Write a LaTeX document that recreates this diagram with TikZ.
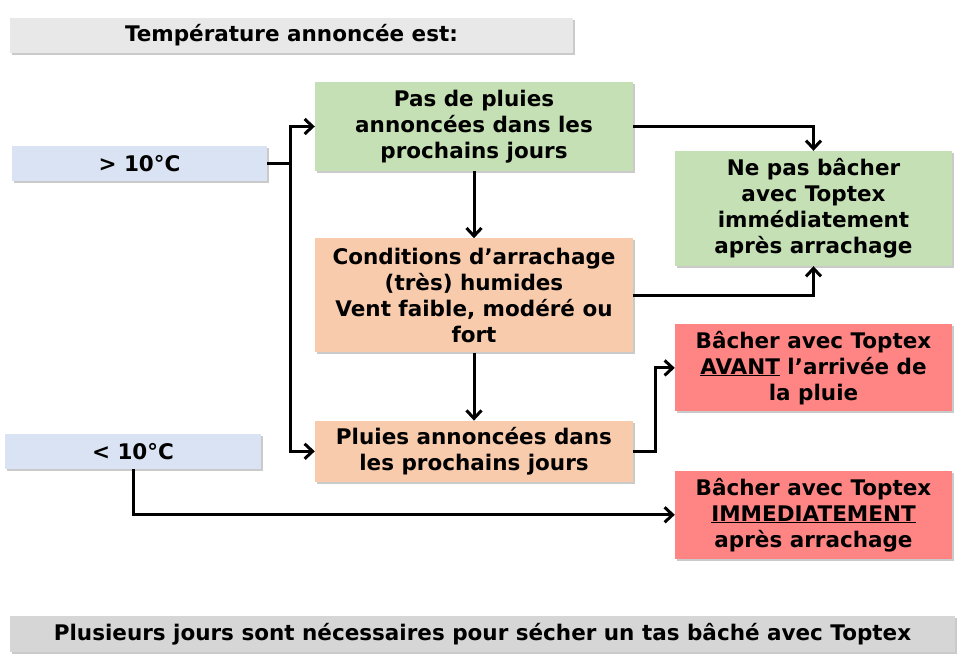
\documentclass[tikz,border=0pt]{standalone}
\usepackage{fontspec}
\setmainfont{DejaVu Sans}
\usetikzlibrary{positioning,shadows,arrows.meta}
\definecolor{tempblue}{HTML}{DAE3F3}
\definecolor{okgreen}{HTML}{C5E0B4}
\definecolor{warnorange}{HTML}{F8CBAD}
\definecolor{alertred}{HTML}{FF8585}
\definecolor{headgrey}{HTML}{E8E8E8}
\definecolor{footgrey}{HTML}{D6D6D6}

\tikzset{
  box/.style={fill=#1, align=center, inner sep=0pt,
    font=\bfseries\fontsize{21.5}{26}\selectfont,
    drop shadow={shadow xshift=1.5pt, shadow yshift=-2pt, opacity=0.35, fill=black!60}},
  link/.style={line width=3pt, -{Straight Barb[length=8pt,width=15pt]}},
}

\begin{document}
\begin{tikzpicture}[x=1pt, y=-1pt]
  \useasboundingbox (0,0) rectangle (965,669);

  \node[box=headgrey, minimum width=563pt, minimum height=35pt] (head) at (291.5,35.5) {Température annoncée est:};
  \node[box=tempblue, minimum width=255pt, minimum height=35pt] (warm) at (139.5,163.5) {> 10°C};
  \node[box=tempblue, minimum width=256pt, minimum height=35pt] (cold) at (133,451.5) {< 10°C};

  \node[box=okgreen, minimum width=318pt, minimum height=89pt] (dry) at (474,126.5) {Pas de pluies\\annoncées dans les\\prochains jours};
  \node[box=warnorange, minimum width=318pt, minimum height=114pt, below=67pt of dry] (wet) {Conditions d’arrachage\\(très) humides\\Vent faible, modéré ou\\fort};
  \node[box=warnorange, minimum width=318pt, minimum height=61pt, below=68pt of wet] (rain) {Pluies annoncées dans\\les prochains jours};

  \node[box=okgreen, minimum width=277pt, minimum height=115pt] (nocover) at (813.5,208.5) {Ne pas bâcher\\avec Toptex\\immédiatement\\après arrachage};
  \node[box=alertred, minimum width=277pt, minimum height=87pt, below=58pt of nocover] (before) {Bâcher avec Toptex\\\underline{AVANT} l’arrivée de\\la pluie};
  \node[box=alertred, minimum width=277pt, minimum height=88pt, below=59pt of before] (now) {Bâcher avec Toptex\\\underline{IMMEDIATEMENT}\\après arrachage};

  \node[box=footgrey, minimum width=945pt, minimum height=36pt] (foot) at (482.5,634) {Plusieurs jours sont nécessaires pour sécher un tas bâché avec Toptex};

  % connectors
  \coordinate (split) at (290,163.5);
  \draw[line width=3pt] (warm.east) -- (split);
  \draw[link] (split) |- (dry.west);
  \draw[link] (split) |- (rain.west);
  \draw[link] (dry) -- (wet);
  \draw[link] (wet) -- (rain);
  \draw[link] (dry.east) -| (nocover.north);
  \draw[link] (wet.east) -| (nocover.south);
  \draw[link] (rain.east) -- ++(22,0) |- (before.west);
  \draw[link] (cold.south) |- (now.west);
\end{tikzpicture}
\end{document}
